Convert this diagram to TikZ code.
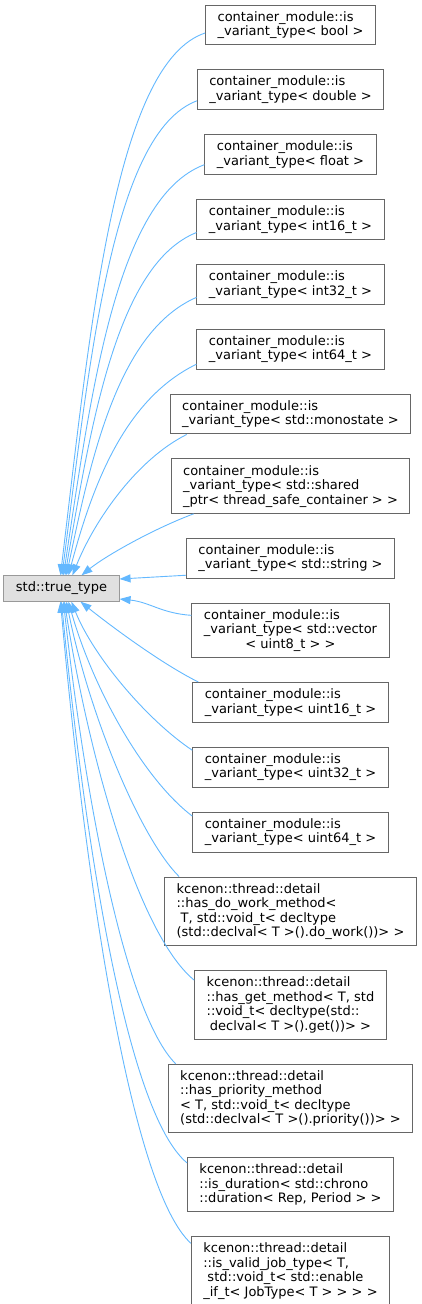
\documentclass[tikz,border=0pt]{standalone}
\usepackage{fontspec}
\setmainfont{DejaVu Sans}
\usetikzlibrary{arrows.meta,positioning,calc}

\definecolor{edgeblue}{HTML}{63B8FF}
\definecolor{boxgray}{HTML}{666666}
\definecolor{basegray}{HTML}{999999}
\definecolor{basefill}{HTML}{E0E0E0}
\newcommand{\midline}[1]{\null\hfil#1}
\newcommand{\leadsp}{\null\ }

\begin{document}
\begin{tikzpicture}[
    x=1bp, y=-1bp,
    node distance=24bp,
    derived/.style={rectangle, draw=boxgray, fill=white, line width=1bp, align=left, inner xsep=12bp, inner ysep=6.2bp, font=\fontsize{13bp}{14.5bp}\selectfont},
    basebox/.style={rectangle, draw=basegray, fill=basefill, line width=1bp, inner xsep=12bp, inner ysep=6.2bp, font=\fontsize{13bp}{14.5bp}\selectfont},
    arrow/.style={-{Triangle[length=11bp,width=8bp]}, draw=edgeblue, line width=0.9bp}
]
\useasboundingbox (0,0) rectangle (421,1304);

% Base class
\node[basebox] (tt) at (61.5,588.5) {std::true\_type};

% container_module specialisations
\node[derived] (b1) at (290.5,25) {container\_module::is\\\_variant\_type< bool >};
\node[derived, below=of b1] (b2) {container\_module::is\\\_variant\_type< double >};
\node[derived, below=of b2] (b3) {container\_module::is\\\_variant\_type< float >};
\node[derived, below=of b3] (b4) {container\_module::is\\\_variant\_type< int16\_t >};
\node[derived, below=of b4] (b5) {container\_module::is\\\_variant\_type< int32\_t >};
\node[derived, below=of b5] (b6) {container\_module::is\\\_variant\_type< int64\_t >};
\node[derived, below=of b6] (b7) {container\_module::is\\\_variant\_type< std::monostate >};
\node[derived, below=of b7] (b8) {container\_module::is\\\_variant\_type< std::shared\\\_ptr< thread\_safe\_container > >};
\node[derived, below=of b8] (b9) {container\_module::is\\\_variant\_type< std::string >};
\node[derived, below=of b9] (b10) {container\_module::is\\\_variant\_type< std::vector\\\midline{< uint8\_t > >}};
\node[derived, below=of b10] (b11) {container\_module::is\\\_variant\_type< uint16\_t >};
\node[derived, below=of b11] (b12) {container\_module::is\\\_variant\_type< uint32\_t >};
\node[derived, below=of b12] (b13) {container\_module::is\\\_variant\_type< uint64\_t >};

% kcenon::thread::detail traits
\node[derived, below=of b13] (b14) {kcenon::thread::detail\\::has\_do\_work\_method<\\\leadsp T, std::void\_t< decltype\\(std::declval< T >().do\_work())> >};
\node[derived, below=of b14] (b15) {kcenon::thread::detail\\::has\_get\_method< T, std\\::void\_t< decltype(std::\\\midline{declval< T >().get())> >}};
\node[derived, below=of b15] (b16) {kcenon::thread::detail\\::has\_priority\_method\\< T, std::void\_t< decltype\\(std::declval< T >().priority())> >};
\node[derived, below=of b16] (b17) {kcenon::thread::detail\\::is\_duration< std::chrono\\::duration< Rep, Period > >};
\node[derived, below=of b17] (b18) {kcenon::thread::detail\\::is\_valid\_job\_type< T,\\\leadsp std::void\_t< std::enable\\\_if\_t< JobType< T > > > >};

% Inheritance arrows
\draw[arrow] ($(b1.west)+(0,8)$) .. controls +(-90,30) and +(30,-250) .. ($(tt.north west)+(57,0)$);
\draw[arrow] ($(b2.west)+(0,11)$) .. controls +(-85,32) and +(28,-215) .. ($(tt.north west)+(58.5,0)$);
\draw[arrow] ($(b3.west)+(0,10)$) .. controls +(-88,33) and +(28,-185) .. ($(tt.north west)+(60,0)$);
\draw[arrow] ($(b4.west)+(0,13)$) .. controls +(-80,32) and +(26,-150) .. ($(tt.north west)+(61.5,0)$);
\draw[arrow] ($(b5.west)+(0,13)$) .. controls +(-78,34) and +(25,-120) .. ($(tt.north west)+(63,0)$);
\draw[arrow] ($(b6.west)+(0,15)$) .. controls +(-72,35) and +(24,-90) .. ($(tt.north west)+(65,0)$);
\draw[arrow] ($(b7.south west)+(17,0)$) .. controls +(-50,25) and +(22,-55) .. ($(tt.north west)+(69,0)$);
\draw[arrow] ($(b8.south west)+(23,0)$) .. controls +(-40,15) and +(25,-20) .. ($(tt.north west)+(78,0)$);
\draw[arrow] ($(b9.west)+(0,17)$) -- ($(tt.east)+(0,-9.5)$);
\draw[arrow] ($(b10.west)+(0,-15)$) .. controls +(-30,-2) and +(30,3) .. ($(tt.east)+(0,10.5)$);
\draw[arrow] ($(b11.north west)+(6,0)$) .. controls +(-40,-20) and +(25,20) .. ($(tt.south west)+(77,0)$);
\draw[arrow] ($(b12.west)+(0,-17)$) .. controls +(-45,-30) and +(22,55) .. ($(tt.south west)+(68,0)$);
\draw[arrow] ($(b13.west)+(0,-16)$) .. controls +(-50,-38) and +(24,85) .. ($(tt.south west)+(65,0)$);
\draw[arrow] ($(b14.north west)+(15,0)$) .. controls +(-40,-40) and +(22,110) .. ($(tt.south west)+(63,0)$);
\draw[arrow] ($(b15.west)+(0,-25)$) .. controls +(-55,-45) and +(25,160) .. ($(tt.south west)+(61,0)$);
\draw[arrow] ($(b16.north west)+(8,0)$) .. controls +(-50,-50) and +(22,200) .. ($(tt.south west)+(60,0)$);
\draw[arrow] ($(b17.west)+(0,-22)$) .. controls +(-60,-50) and +(24,245) .. ($(tt.south west)+(58,0)$);
\draw[arrow] ($(b18.west)+(0,-28)$) .. controls +(-60,-55) and +(25,280) .. ($(tt.south west)+(57,0)$);

\end{tikzpicture}
\end{document}
